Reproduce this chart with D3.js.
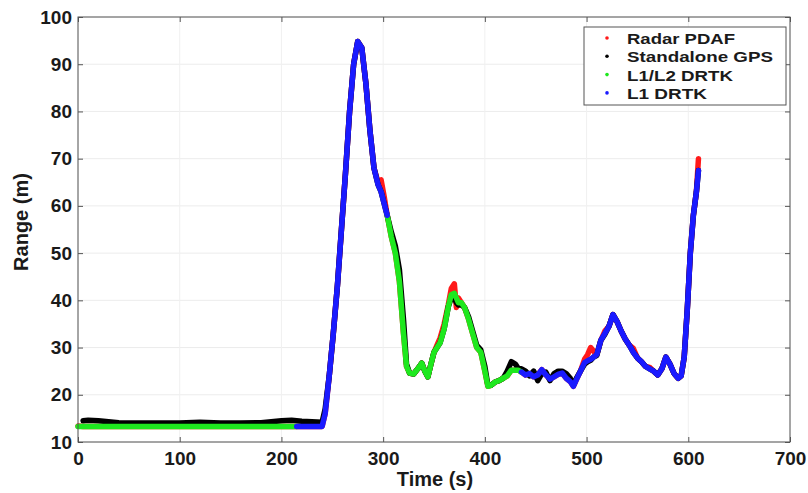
<!DOCTYPE html>
<html>
<head>
<meta charset="utf-8">
<script src="https://cdn.jsdelivr.net/npm/d3@7"></script>
<style>
  body { margin: 0; background: #fff; }
  text { font-family: "Liberation Sans", Arial, sans-serif; font-weight: bold; fill: #1a1a1a; }
</style>
</head>
<body>
<div id="chart"></div>
<script>
// time grid (s) shared by all series
var time = [0, 5, 10, 20, 40, 60, 80, 100, 120, 140, 160, 180, 200, 210, 215, 220, 230, 240,
  243, 247, 251, 255, 259, 263, 267, 271, 275, 279, 283, 287, 291, 295, 298, 301, 304, 308,
  312, 316, 320, 323, 326, 330, 334, 338, 341, 344, 347, 350, 353, 356, 360, 364, 367, 370,
  372, 374, 377, 380, 384, 388, 392, 396, 400, 403, 406, 410, 414, 418, 422, 426, 430, 433,
  436, 440, 444, 448, 452, 456, 460, 464, 468, 472, 476, 480, 484, 487, 490, 494, 498, 501,
  504, 507, 510, 514, 518, 522, 526, 530, 534, 538, 542, 546, 550, 554, 558, 562, 566, 570,
  574, 578, 582, 586, 590, 593, 596, 599, 602, 605, 608, 610];

// Radar PDAF range (m)
var radarPdaf = [13.4, 13.3, 13.3, 13.3, 13.3, 13.3, 13.3, 13.3, 13.3, 13.3, 13.3, 13.3, 13.3, 13.3, 13.3, 13.3, 13.3, 13.3,
  16, 24, 33, 43, 55, 67, 80, 90, 94.8, 93.5, 86, 76, 68, 65, 65.5, 62, 58, 53.5,
  50, 44, 33, 26, 24.6, 24.4, 25.5, 26.7, 25, 23.8, 26.5, 29, 30.5, 32, 35, 39, 42.5, 43.5,
  38.5, 40.5, 39.5, 38.5, 36, 33, 30, 29, 25, 21.8, 22, 22.7, 23, 23.5, 24, 25.2, 25.2, 25.2,
  24.8, 24.2, 24.5, 23.8, 24.2, 25.3, 24.2, 23.3, 23.8, 24.3, 24.6, 23.5, 22.8, 21.8, 23.2, 25, 27.5, 28.5,
  30, 29.2, 28.5, 31.5, 33.5, 34.5, 37, 35.5, 33.5, 31.8, 30.5, 29.8, 27.8, 27, 26, 25.8, 25, 24.2,
  25.5, 28, 26.5, 24.5, 23.5, 24, 28, 38, 50, 58, 63, 70];

// Standalone GPS range (m)
var standaloneGps = [null, 14.5, 14.6, 14.5, 14.1, 14.0, 14.0, 14.0, 14.2, 14.0, 14.0, 14.1, 14.5, 14.6, 14.5, 14.4, 14.3, 14.2,
  17, 24, 33, 43, 55, 67, 80, 90, 94.8, 93.5, 86, 76, 68, 64.5, 63, 60.5, 58, 54.5,
  51.5, 46.5, 36, 26.5, 24.6, 24.4, 25.5, 26.7, 25, 23.8, 26.5, 29, 30, 31, 34, 38.6, 40.5, 40.5,
  39.5, 39, 39, 38.5, 36.5, 33.5, 30.5, 29.5, 26, 22, 22, 22.7, 23, 23.5, 25, 27, 26.5, 25.5,
  25.5, 25, 24, 25, 23, 24.5, 24.8, 23, 24.5, 25, 25, 24.5, 23.5, 22, 23.5, 25, 26.5, 27,
  27.3, 28, 28.3, 31.5, 32.8, 34.5, 37, 35.5, 33.5, 31.8, 30.5, 29, 27.8, 27, 26, 25.5, 25, 24.2,
  25.5, 28, 26.5, 24.5, 23.5, 24, 28, 38, 50, 58, 63, 67.5];

// L1/L2 DRTK range (m)
var l1l2Drtk = [13.3, 13.3, 13.3, 13.3, 13.3, 13.3, 13.3, 13.3, 13.3, 13.3, 13.3, 13.3, 13.3, 13.3, 13.3, null, null, null,
  null, null, null, null, null, null, null, null, null, null, null, null, null, null, null, null, 58, 53.5,
  50, 44, 33, 26, 24.6, 24.4, 25.5, 26.7, 25, 23.8, 26.5, 29, 30, 31, 34, 38.6, 41.2, 41.5,
  40.5, 39.5, 39.5, 38.5, 36, 33, 30, 29, 25, 21.8, 22, 22.7, 23, 23.5, 24, 25.2, 25.2, 25.2,
  24.8, null, null, null, null, null, null, null, null, null, null, null, null, null, null, null, null, null,
  null, null, null, null, null, null, null, null, null, null, null, null, null, null, null, null, null, null,
  null, null, null, null, null, null, null, null, null, null, null, null];

// L1 DRTK range (m)
var l1Drtk = [null, null, null, null, null, null, null, null, null, null, null, null, null, null, 13.3, 13.3, 13.3, 13.3,
  16, 24, 33, 43, 55, 67, 80, 90, 94.8, 93.5, 86, 76, 68, 64.5, 63, 60.5, 58, null,
  null, null, null, null, null, null, null, null, null, null, null, null, null, null, null, null, null, null,
  null, null, null, null, null, null, null, null, null, null, null, null, null, null, null, null, null, null,
  24.8, 24.2, 24.5, 23.8, 24.2, 25.3, 24.2, 23.3, 23.8, 24.3, 24.6, 23.5, 22.8, 21.8, 23.2, 25, 26.8, 27.2,
  27.5, 28, 28.5, 31.5, 33, 34.5, 37, 35.5, 33.5, 31.8, 30.5, 29, 27.8, 27, 26, 25.5, 25, 24.2,
  25.5, 28, 26.5, 24.5, 23.5, 24, 28, 38, 50, 58, 63, 67.5];

var seriesNames = ["Radar PDAF", "Standalone GPS", "L1/L2 DRTK", "L1 DRTK"];
var seriesColors = ["#ff1a1a", "#000000", "#1ee81e", "#1a1aff"];
var seriesValues = [radarPdaf, standaloneGps, l1l2Drtk, l1Drtk];

var xTicks = [0, 100, 200, 300, 400, 500, 600, 700];
var yTicks = [10, 20, 30, 40, 50, 60, 70, 80, 90, 100];

var svgWidth = 808;
var svgHeight = 493;
var margin = { top: 17, right: 18, bottom: 51, left: 78 };
var width = svgWidth - margin.left - margin.right;
var height = svgHeight - margin.top - margin.bottom;

var svg = d3.select("#chart")
  .append("svg")
  .attr("width", svgWidth)
  .attr("height", svgHeight);

var chartGroup = svg.append("g")
  .attr("transform", `translate(${margin.left}, ${margin.top})`);

var xScale = d3.scaleLinear().domain([0, 700]).range([0, width]);
var yScale = d3.scaleLinear().domain([10, 100]).range([height, 0]);

// grid
chartGroup.append("g")
  .selectAll("line")
  .data(yTicks)
  .enter()
  .append("line")
  .attr("x1", 0).attr("x2", width)
  .attr("y1", d => yScale(d)).attr("y2", d => yScale(d))
  .attr("stroke", "#ececec");

chartGroup.append("g")
  .selectAll("line")
  .data(xTicks)
  .enter()
  .append("line")
  .attr("y1", 0).attr("y2", height)
  .attr("x1", d => xScale(d)).attr("x2", d => xScale(d))
  .attr("stroke", "#f0f0f0");

// lines
var line = d3.line()
  .defined(d => d[1] !== null)
  .x(d => xScale(d[0]))
  .y(d => yScale(d[1]))
  .curve(d3.curveLinear);

seriesValues.forEach(function(vals, i) {
  chartGroup.append("path")
    .datum(time.map((t, j) => [t, vals[j]]))
    .attr("d", line)
    .attr("fill", "none")
    .attr("stroke", seriesColors[i])
    .attr("stroke-width", 5.5)
    .attr("stroke-linejoin", "round")
    .attr("stroke-linecap", "round");
});

// axes (ticks pointing inward)
var bottomAxis = d3.axisBottom(xScale).tickValues(xTicks).tickSizeInner(-5).tickSizeOuter(0).tickPadding(10);
var leftAxis = d3.axisLeft(yScale).tickValues(yTicks).tickSizeInner(-5).tickSizeOuter(0).tickPadding(6);
var topAxis = d3.axisTop(xScale).tickValues(xTicks).tickSizeInner(-5).tickSizeOuter(0).tickFormat("");
var rightAxis = d3.axisRight(yScale).tickValues(yTicks).tickSizeInner(-5).tickSizeOuter(0).tickFormat("");

function styleAxis(g) {
  g.select(".domain").remove();
  g.selectAll("line").attr("stroke", "#555");
  g.selectAll("text")
    .attr("font-size", 19)
    .attr("font-family", "Liberation Sans, Arial, sans-serif")
    .attr("font-weight", "bold")
    .attr("fill", "#1a1a1a");
}

chartGroup.append("g").attr("transform", `translate(0, ${height})`).call(bottomAxis).call(styleAxis);
chartGroup.append("g").call(leftAxis).call(styleAxis);
chartGroup.append("g").call(topAxis).call(styleAxis);
chartGroup.append("g").attr("transform", `translate(${width}, 0)`).call(rightAxis).call(styleAxis);

chartGroup.append("rect")
  .attr("width", width)
  .attr("height", height)
  .attr("fill", "none")
  .attr("stroke", "#555")
  .attr("stroke-width", 1);

// axis labels
svg.append("text")
  .attr("transform", "translate(28, 222) rotate(-90)")
  .attr("text-anchor", "middle")
  .attr("font-size", 20)
  .text("Range (m)");

svg.append("text")
  .attr("x", 435)
  .attr("y", 486)
  .attr("text-anchor", "middle")
  .attr("font-size", 20)
  .text("Time (s)");

// legend
var legendWidths = [108, 146, 106, 80];
var legend = svg.append("g").attr("transform", "translate(584, 27)");
legend.append("rect")
  .attr("width", 202)
  .attr("height", 78)
  .attr("fill", "#fff")
  .attr("stroke", "#555");

var items = legend.selectAll("g.item")
  .data(seriesNames)
  .enter()
  .append("g")
  .attr("class", "item")
  .attr("transform", (d, i) => `translate(0, ${11 + i * 18.3})`);

items.append("circle")
  .attr("cx", 23)
  .attr("cy", 0)
  .attr("r", 1.8)
  .attr("fill", (d, i) => seriesColors[i]);

items.append("text")
  .attr("x", 43)
  .attr("y", 6)
  .attr("font-size", 15.5)
  .attr("textLength", (d, i) => legendWidths[i])
  .attr("lengthAdjust", "spacingAndGlyphs")
  .text(d => d);
</script>
</body>
</html>
